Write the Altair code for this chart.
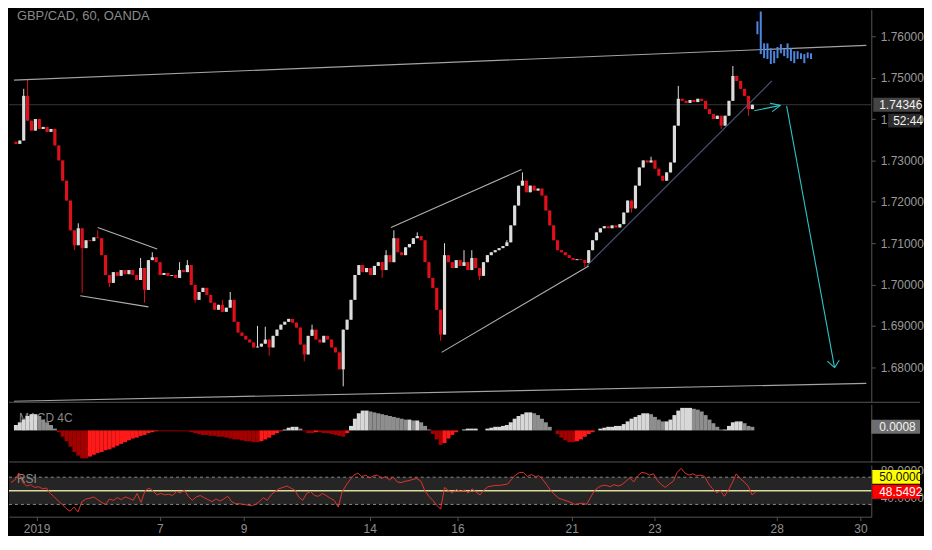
import altair as alt
import numpy as np
import pandas as pd

# GBP/CAD 60 min, OANDA - closes (one value per ~2 bars)
closes = [
    1.7340, 1.7348, 1.7456, 1.7396, 1.7372, 1.7400, 1.7376, 1.7381, 1.7369, 1.7376,
    1.7336, 1.7300, 1.7251, 1.7203, 1.7131, 1.7095, 1.7136, 1.7088, 1.7107, 1.7105,
    1.7114, 1.7112, 1.7071, 1.7023, 1.7004, 1.7030, 1.7021, 1.7035, 1.7025, 1.7035,
    1.7023, 1.7011, 1.7040, 1.6987, 1.7059, 1.7066, 1.7054, 1.7023, 1.7028, 1.7021,
    1.7023, 1.7016, 1.7035, 1.7030, 1.7047, 1.6999, 1.6963, 1.6982, 1.6992, 1.6975,
    1.6956, 1.6939, 1.6951, 1.6934, 1.6944, 1.6963, 1.6910, 1.6884, 1.6876, 1.6867,
    1.6860, 1.6848, 1.6850, 1.6857, 1.6867, 1.6848, 1.6876, 1.6891, 1.6903, 1.6910,
    1.6917, 1.6908, 1.6896, 1.6855, 1.6831, 1.6876, 1.6891, 1.6867, 1.6860, 1.6876,
    1.6867, 1.6848, 1.6836, 1.6795, 1.6891, 1.6915, 1.6963, 1.7023, 1.7047, 1.7030,
    1.7040, 1.7023, 1.7045, 1.7054, 1.7035, 1.7071, 1.7054, 1.7112, 1.7078, 1.7071,
    1.7090, 1.7098, 1.7112, 1.7117, 1.7107, 1.7054, 1.7016, 1.6992, 1.6939, 1.6879,
    1.7071, 1.7054, 1.7040, 1.7059, 1.7045, 1.7054, 1.7035, 1.7064, 1.7040, 1.7021,
    1.7054, 1.7071, 1.7078, 1.7083, 1.7088, 1.7093, 1.7102, 1.7143, 1.7191, 1.7239,
    1.7251, 1.7223, 1.7239, 1.7227, 1.7232, 1.7215, 1.7179, 1.7143, 1.7107, 1.7083,
    1.7078, 1.7071, 1.7064, 1.7059, 1.7061, 1.7059, 1.7052, 1.7083, 1.7107, 1.7126,
    1.7136, 1.7141, 1.7136, 1.7143, 1.7138, 1.7146, 1.7174, 1.7203, 1.7184, 1.7239,
    1.7283, 1.7300, 1.7295, 1.7300, 1.7280, 1.7263, 1.7251, 1.7271, 1.7295, 1.7384,
    1.7449, 1.7444, 1.7439, 1.7446, 1.7441, 1.7449, 1.7444, 1.7424, 1.7412, 1.7400,
    1.7408, 1.7384, 1.7408, 1.7444, 1.7504, 1.7492, 1.7473, 1.7456, 1.7424, 1.74346,
]
first_open = 1.7345

# the wicks that stick out noticeably
spike_hi = {2: 1.7473, 3: 1.7497, 16: 1.7148, 21: 1.7131, 32: 1.7064, 35: 1.7078,
            42: 1.7054, 44: 1.7059, 53: 1.6963, 55: 1.6982, 62: 1.6900, 64: 1.6898,
            76: 1.6903, 95: 1.7083, 97: 1.7131, 103: 1.7126, 110: 1.7100, 115: 1.7083,
            117: 1.7083, 126: 1.7107, 130: 1.7271, 163: 1.7309, 170: 1.7480, 184: 1.7528}
spike_lo = {15: 1.7083, 17: 1.6980, 24: 1.6994, 33: 1.6956, 46: 1.6956, 65: 1.6828,
            74: 1.6814, 84: 1.6754, 94: 1.7016, 109: 1.6864, 119: 1.7011, 146: 1.7042,
            158: 1.7174, 181: 1.7376, 188: 1.7408}

macd = [
    0.0012, 0.0018, 0.0024, 0.0032, 0.0036, 0.0036, 0.0032, 0.0024, 0.0018, 0.0012,
    0.0004, -0.0004, -0.0014, -0.0024, -0.0036, -0.0048, -0.0056, -0.0062, -0.0062, -0.0058,
    -0.0054, -0.0050, -0.0048, -0.0044, -0.0042, -0.0038, -0.0034, -0.0030, -0.0026, -0.0022,
    -0.0018, -0.0016, -0.0012, -0.0010, -0.0006, -0.0004, -0.0002, -0.0002, -0.0002, -0.0002,
    -0.0002, -0.0002, -0.0002, -0.0002, -0.0002, -0.0004, -0.0006, -0.0008, -0.0010, -0.0010,
    -0.0012, -0.0012, -0.0014, -0.0014, -0.0016, -0.0018, -0.0020, -0.0020, -0.0022, -0.0024,
    -0.0024, -0.0026, -0.0026, -0.0024, -0.0020, -0.0016, -0.0010, -0.0006, -0.0002, 0.0002,
    0.0006, 0.0008, 0.0008, 0.0004, -0.0002, -0.0006, -0.0006, -0.0004, -0.0004, -0.0006,
    -0.0006, -0.0008, -0.0010, -0.0012, -0.0014, -0.0006, 0.0010, 0.0026, 0.0038, 0.0044,
    0.0044, 0.0042, 0.0040, 0.0038, 0.0036, 0.0034, 0.0032, 0.0030, 0.0028, 0.0026,
    0.0024, 0.0024, 0.0022, 0.0022, 0.0018, 0.0010, 0.0002, -0.0008, -0.0020, -0.0032,
    -0.0028, -0.0018, -0.0010, -0.0004, 0.0000, 0.0002, 0.0004, 0.0004, 0.0004, 0.0000,
    0.0000, 0.0004, 0.0006, 0.0008, 0.0008, 0.0010, 0.0012, 0.0018, 0.0026, 0.0032,
    0.0036, 0.0040, 0.0040, 0.0038, 0.0034, 0.0026, 0.0018, 0.0008, 0.0000, -0.0008,
    -0.0016, -0.0022, -0.0026, -0.0026, -0.0024, -0.0020, -0.0014, -0.0008, -0.0004, 0.0000,
    0.0004, 0.0006, 0.0008, 0.0008, 0.0010, 0.0010, 0.0014, 0.0020, 0.0026, 0.0030,
    0.0034, 0.0038, 0.0038, 0.0036, 0.0030, 0.0024, 0.0020, 0.0020, 0.0024, 0.0034,
    0.0044, 0.0050, 0.0050, 0.0050, 0.0048, 0.0046, 0.0042, 0.0034, 0.0024, 0.0016,
    0.0008, 0.0002, 0.0002, 0.0010, 0.0018, 0.0020, 0.0020, 0.0016, 0.0010, 0.0008,
]

rsi = [
    62, 66, 76, 62, 57, 59, 55, 56, 53, 54,
    46, 41, 35, 30, 24, 20, 26, 19, 34, 38,
    39, 41, 37, 33, 30, 38, 36, 40, 37, 41,
    39, 36, 46, 33, 50, 54, 50, 44, 46, 44,
    45, 43, 49, 47, 51, 42, 36, 41, 43, 40,
    37, 34, 38, 35, 38, 42, 34, 31, 31, 30,
    29, 28, 30, 34, 40, 36, 44, 49, 53, 55,
    57, 54, 51, 41, 36, 46, 49, 43, 42, 46,
    43, 39, 36, 26, 48, 58, 66, 73, 76, 71,
    73, 69, 72, 73, 68, 71, 66, 70, 63, 62,
    64, 65, 67, 68, 64, 50, 42, 36, 29, 23,
    55, 50, 47, 52, 49, 51, 47, 53, 48, 44,
    51, 56, 57, 58, 58, 59, 60, 67, 73, 77,
    77, 71, 74, 71, 72, 66, 58, 50, 44, 39,
    37, 35, 33, 30, 31, 32, 30, 40, 50, 55,
    58, 58, 56, 59, 57, 59, 64, 69, 63, 72,
    77, 76, 73, 75, 65, 59, 55, 60, 64, 77,
    83, 76, 73, 75, 72, 73, 71, 60, 53, 47,
    50, 42, 51, 62, 75, 68, 63, 57, 44, 48.5492,
]

last_price = 1.74346
countdown = '52:44'

# "bars pattern" projection drawn after the last candle
proj_hi = [1.7636, 1.7660, 1.7583, 1.7583, 1.7571, 1.7564, 1.7574, 1.7581, 1.7569,
           1.7583, 1.7571, 1.7564, 1.7564, 1.7559, 1.7557, 1.7561, 1.7559]
proj_lo = [1.7605, 1.7557, 1.7547, 1.7545, 1.7533, 1.7535, 1.7547, 1.7559, 1.7552,
           1.7547, 1.7540, 1.7535, 1.7545, 1.7545, 1.7535, 1.7547, 1.7545]

# hand drawn lines: bar index / price of both ends
seg_x0 = [-0.5, -0.5, 21, 16.5, 96.25, 109.25, 146.5, 189.5, 193.5, 194.1, 197.8, 208.25, 211.3]
seg_p0 = [1.7494, 1.6718, 1.7138, 1.6973, 1.7138, 1.6836, 1.7045, 1.7420, 1.7438, 1.7418, 1.7432, 1.6815, 1.6817]
seg_x1 = [218.25, 218.25, 36.25, 34, 129.75, 147, 194, 196.2, 196.2, 196.2, 210.1, 210.1, 210.1]
seg_p1 = [1.7578, 1.6761, 1.7086, 1.6946, 1.7278, 1.7045, 1.7492, 1.7433, 1.7433, 1.7433, 1.6799, 1.6799, 1.6799]
seg_kind = ['chan', 'chan', 'pattern', 'pattern', 'pattern', 'pattern', 'trend',
            'arrow', 'arrow', 'arrow', 'arrow', 'arrow', 'arrow']

tick_pos = [6.5, 37.75, 59, 91, 113.25, 142.25, 163.25, 194.25, 215.5]
tick_txt = ['2019', '7', '9', '14', '16', '21', '23', '28', '30']

W = 867
FONT = 'Liberation Sans'
GRID = '#555555'
XS = alt.Scale(domain=[-0.5, 218.25], nice=False, zero=False)
PS = alt.Scale(domain=[1.67154, 1.76649], nice=False, zero=False)
MS = alt.Scale(domain=[-0.0070, 0.0058], nice=False, zero=False)
RS = alt.Scale(domain=[12, 88], nice=False, zero=False)

price_axis = alt.Axis(orient='right', values=[1.68, 1.69, 1.70, 1.71, 1.72, 1.73, 1.74, 1.75, 1.76],
                      format='.5f', title=None, tickSize=4, labelPadding=5)
macd_axis = alt.Axis(orient='right', labels=False, ticks=False, title=None)
rsi_axis = alt.Axis(orient='right', values=[40, 80], format='.4f', title=None, tickSize=4, labelPadding=5)
label_expr = ' : '.join(f"datum.value == {p} ? '{t}'" for p, t in zip(tick_pos, tick_txt)) + " : ''"
time_axis = alt.Axis(values=tick_pos, labelExpr=label_expr, title=None, tickSize=4, labelPadding=3,
                     labelColor='#8f8f8f', labelOverlap=False, labelFlush=False)


def px(f):
    return alt.X(f, type='quantitative', scale=XS, axis=None)


def py(f):
    return alt.Y(f, type='quantitative', scale=PS, axis=price_axis)


def my(f):
    return alt.Y(f, type='quantitative', scale=MS, axis=macd_axis)


def ry(f):
    return alt.Y(f, type='quantitative', scale=RS, axis=rsi_axis)


one = pd.DataFrame({'a': [0]})


def separator(h):
    return alt.Chart(one).mark_rule(color=GRID).encode(x=alt.value(0), x2=alt.value(916), y=alt.value(h))


def label(txt, y, x=8, size=12):
    return alt.Chart(pd.DataFrame({'t': [txt]})).mark_text(
        align='left', baseline='middle', font=FONT, fontSize=size, color='#8a8a8a'
    ).encode(x=alt.value(x), y=alt.value(y), text='t:N')


# ---- price pane ----
n = len(closes)
opens = [first_open] + closes[:-1]
candles = pd.DataFrame({'i': range(n), 'open': opens, 'close': closes})
candles['high'] = [max(o, c, spike_hi.get(k, 0)) for k, (o, c) in enumerate(zip(opens, closes))]
candles['low'] = [min(o, c, spike_lo.get(k, 9)) for k, (o, c) in enumerate(zip(opens, closes))]
candles['col'] = np.where(candles['close'] >= candles['open'], '#dcdcdc', '#e0101a')

seg_colors = {'chan': '#a3a3a3', 'pattern': '#b0b0b0', 'trend': '#4d5a7c', 'arrow': '#2ec4c8'}
segs = pd.DataFrame({'x0': seg_x0, 'p0': seg_p0, 'x1': seg_x1, 'p1': seg_p1, 'kind': seg_kind})
segs['col'] = segs['kind'].map(seg_colors)

proj = pd.DataFrame({'hi': proj_hi, 'lo': proj_lo})
proj['i'] = 190.3 + 0.86 * np.arange(len(proj))

tag = pd.DataFrame({'p': [last_price], 'txt': [f'{last_price:.5f}'], 'cd': [countdown]})

cur_line = alt.Chart(tag).mark_rule(color='#363636').encode(x=alt.value(0), x2=alt.value(W), y=py('p'))
wicks = alt.Chart(candles).mark_rule(strokeWidth=1).encode(
    x=px('i'), y=py('low'), y2='high', color=alt.Color('col:N', scale=None))
bodies = alt.Chart(candles).mark_bar(size=3.2).encode(
    x=px('i'), y=py('open'), y2='close', color=alt.Color('col:N', scale=None))
lines = alt.Chart(segs).mark_rule(strokeWidth=1.1).encode(
    x=px('x0'), x2='x1', y=py('p0'), y2='p1', color=alt.Color('col:N', scale=None))
proj_bars = alt.Chart(proj).mark_bar(size=2, color='#4f86e0').encode(x=px('i'), y=py('lo'), y2='hi')
tag_box = alt.Chart(tag).mark_rect(color='#444444', yOffset=-7, y2Offset=7).encode(
    x=alt.value(869), x2=alt.value(916), y=py('p'), y2='p')
tag_txt = alt.Chart(tag).mark_text(align='left', baseline='middle', font=FONT, fontSize=12, color='#f2f2f2').encode(
    x=alt.value(875), y=py('p'), text='txt:N')
cd_box = alt.Chart(tag).mark_rect(color='#2c2c2c', yOffset=9, y2Offset=23).encode(
    x=alt.value(884), x2=alt.value(916), y=py('p'), y2='p')
cd_txt = alt.Chart(tag).mark_text(align='left', baseline='middle', dy=16, font=FONT, fontSize=12,
                                  color='#f2f2f2').encode(x=alt.value(889), y=py('p'), text='cd:N')

price = alt.layer(
    cur_line, wicks, bodies, lines, proj_bars, label('GBP/CAD, 60, OANDA', 7, 8, 13),
    tag_box, tag_txt, cd_box, cd_txt, separator(395)
).properties(width=W, height=395)

# ---- MACD 4C pane ----
prev = [macd[0]] + macd[:-1]
mcols = []
for m, p in zip(macd, prev):
    if m >= 0:
        mcols.append('#d8d8d8' if m >= p else '#8e8e8e')
    else:
        mcols.append('#ff1a1a' if m > p else '#a30000')
mdf = pd.DataFrame({'i': range(n), 'macd': macd, 'zero': 0.0, 'col': mcols})
mtag = pd.DataFrame({'v': [macd[-1]], 'txt': [f'{macd[-1]:.4f}']})

macd_bars = alt.Chart(mdf).mark_bar(size=4).encode(
    x=px('i'), y=my('macd'), y2='zero', color=alt.Color('col:N', scale=None))
macd_box = alt.Chart(mtag).mark_rect(color='#6e6e6e', yOffset=-7, y2Offset=7).encode(
    x=alt.value(867), x2=alt.value(916), y=my('v'), y2='v')
macd_txt = alt.Chart(mtag).mark_text(align='left', baseline='middle', font=FONT, fontSize=12, color='#f2f2f2').encode(
    x=alt.value(875), y=my('v'), text='txt:N')

macd_chart = alt.layer(
    label('MACD 4C', 14, 10), macd_bars, macd_box, macd_txt, separator(58)
).properties(width=W, height=58)

# ---- RSI pane ----
rdf = pd.DataFrame({'i': range(n), 'rsi': rsi})
band = pd.DataFrame({'a': [70], 'b': [30]})
levels = pd.DataFrame({'v': [70, 30]})
mid = pd.DataFrame({'v': [50], 'txt': ['50.0000']})
rtag = pd.DataFrame({'v': [rsi[-1]], 'txt': [f'{rsi[-1]:.4f}']})


def rx(f):
    return alt.X(f, type='quantitative', scale=XS, axis=time_axis)


band_rect = alt.Chart(band).mark_rect(color='#252525').encode(x=alt.value(0), x2=alt.value(W), y=ry('a'), y2='b')
dashed = alt.Chart(levels).mark_rule(color='#8a8a8a', strokeDash=[3, 3]).encode(
    x=alt.value(0), x2=alt.value(W), y=ry('v'))
mid_line = alt.Chart(mid).mark_rule(color='#dcdc9c', strokeWidth=1.6).encode(
    x=alt.value(0), x2=alt.value(W), y=ry('v'))
rsi_line = alt.Chart(rdf).mark_line(color='#e2332b', strokeWidth=1).encode(x=rx('i'), y=ry('rsi'))
mid_box = alt.Chart(mid).mark_rect(color='#ffff00', yOffset=-21, y2Offset=-7).encode(
    x=alt.value(868), x2=alt.value(916), y=ry('v'), y2='v')
mid_txt = alt.Chart(mid).mark_text(align='left', baseline='middle', dy=-14, font=FONT, fontSize=12,
                                   color='#111111').encode(x=alt.value(875), y=ry('v'), text='txt:N')
rsi_box = alt.Chart(rtag).mark_rect(color='#ff0000', yOffset=-7, y2Offset=7).encode(
    x=alt.value(868), x2=alt.value(916), y=ry('v'), y2='v')
rsi_txt = alt.Chart(rtag).mark_text(align='left', baseline='middle', font=FONT, fontSize=12,
                                    color='#ffffff').encode(x=alt.value(875), y=ry('v'), text='txt:N')

rsi_chart = alt.layer(
    band_rect, dashed, mid_line, label('RSI', 14, 8), rsi_line, mid_box, mid_txt, rsi_box, rsi_txt
).properties(width=W, height=52)

chart = alt.vconcat(price, macd_chart, rsi_chart, spacing=1).resolve_scale(
    y='independent'
).properties(
    background='#000000', padding=0
).configure_view(
    stroke=None
).configure_axis(
    labelFont=FONT, labelFontSize=12, labelColor='#9a9a9a',
    domainColor=GRID, tickColor=GRID, grid=False
)

chart.save("out.html", embed_options={"renderer": "svg", "actions": False})
